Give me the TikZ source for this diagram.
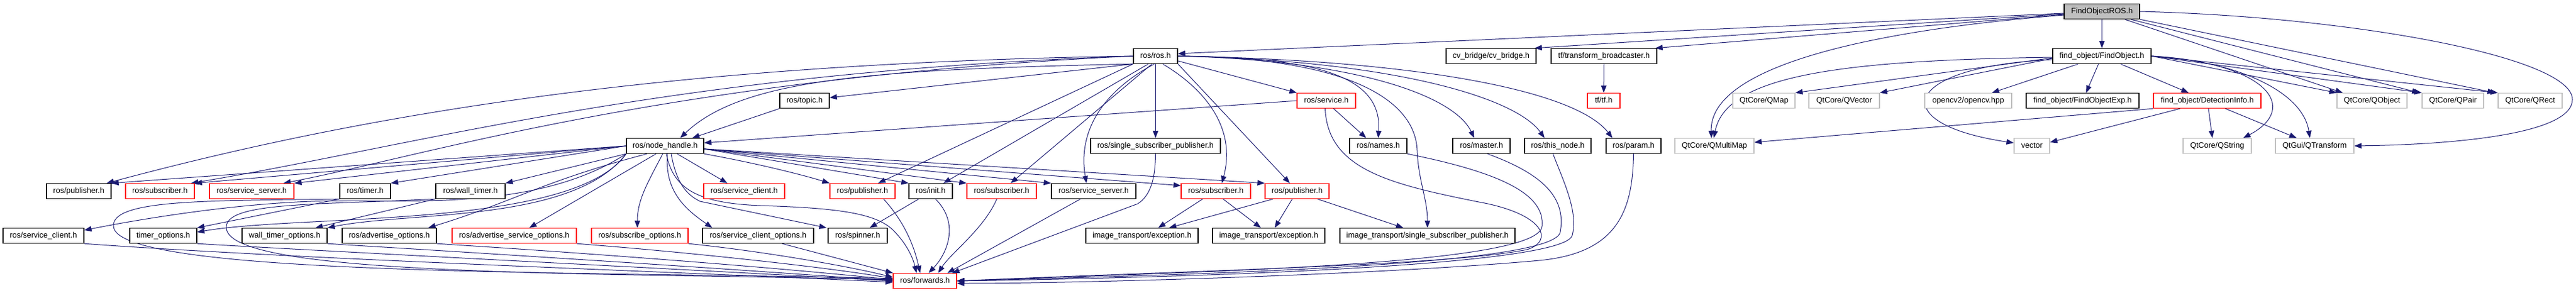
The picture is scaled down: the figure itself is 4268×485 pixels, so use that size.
\documentclass[tikz,border=0pt]{standalone}
\usepackage{fontspec}
\setmainfont{Liberation Sans}
\usetikzlibrary{arrows.meta,backgrounds}
\definecolor{eb}{HTML}{191970}
\definecolor{gb}{HTML}{BFBFBF}
\begin{document}
\begin{tikzpicture}[x=1pt,y=-1pt,
 nb/.style={draw=black,line width=1.3pt,minimum height=25pt,inner sep=0pt,fill=white,text height=9.5pt,text depth=2.5pt,font=\fontsize{13}{15}\selectfont},
 nr/.style={nb,draw=red},
 ng/.style={nb,draw=gb},
 nroot/.style={nb,fill=gb},
 e/.style={draw=eb,line width=1pt,-{Triangle[length=12pt,width=9pt]}}]
\useasboundingbox (0,0) rectangle (4268,485);
% row 1
\node[nroot,minimum width=125pt] (FOR) at (3482.5,19) {FindObjectROS.h};
% row 2
\node[nb,minimum width=73pt] (ros) at (1914.5,93) {ros/ros.h};
\node[nb,minimum width=149pt] (cvb) at (2470.5,93) {cv\_bridge/cv\_bridge.h};
\node[nb,minimum width=175pt] (tfb) at (2657.5,93) {tf/transform\_broadcaster.h};
\node[nb,minimum width=163pt] (fo) at (3482.5,93) {find\_object/FindObject.h};
% row 3
\node[nb,minimum width=82pt] (topic) at (1333,167) {ros/topic.h};
\node[nr,minimum width=97pt] (service) at (2197.5,167) {ros/service.h};
\node[nr,minimum width=54pt] (tf) at (2657,167) {tf/tf.h};
\node[ng,minimum width=103pt] (qmap) at (2922.5,167) {QtCore/QMap};
\node[ng,minimum width=117pt] (qvec) at (3055.5,167) {QtCore/QVector};
\node[ng,minimum width=144pt] (ocv) at (3261,167) {opencv2/opencv.hpp};
\node[nb,minimum width=187pt] (foexp) at (3450.5,167) {find\_object/FindObjectExp.h};
\node[nr,minimum width=178pt] (det) at (3657,167) {find\_object/DetectionInfo.h};
\node[ng,minimum width=116pt] (qobj) at (3930,167) {QtCore/QObject};
\node[ng,minimum width=102pt] (qpair) at (4064,167) {QtCore/QPair};
\node[ng,minimum width=106pt] (qrect) at (4192,167) {QtCore/QRect};
% row 4
\node[nb,minimum width=128pt] (nh) at (1102,242) {ros/node\_handle.h};
\node[nb,minimum width=215pt] (ssp) at (1914.5,242) {ros/single\_subscriber\_publisher.h};
\node[nb,minimum width=95pt] (names) at (2283.5,242) {ros/names.h};
\node[nb,minimum width=95pt] (master) at (2454.5,242) {ros/master.h};
\node[nb,minimum width=110pt] (thisnode) at (2581,242) {ros/this\_node.h};
\node[nb,minimum width=91pt] (param) at (2706.5,242) {ros/param.h};
\node[ng,minimum width=131pt] (qmm) at (2840.5,242) {QtCore/QMultiMap};
\node[ng,minimum width=59pt] (vector) at (3366.5,242) {vector};
\node[ng,minimum width=113pt] (qstr) at (3673.5,242) {QtCore/QString};
\node[ng,minimum width=130pt] (qtr) at (3835,242) {QtGui/QTransform};
% row 5
\node[nb,minimum width=107pt] (pub1) at (130.5,317) {ros/publisher.h};
\node[nr,minimum width=114pt] (sub1) at (265,317) {ros/subscriber.h};
\node[nr,minimum width=140pt] (ss1) at (417,317) {ros/service\_server.h};
\node[nb,minimum width=84pt] (timer) at (605,317) {ros/timer.h};
\node[nb,minimum width=115pt] (wt) at (779.5,317) {ros/wall\_timer.h};
\node[nr,minimum width=134pt] (sc1) at (1233,317) {ros/service\_client.h};
\node[nr,minimum width=108pt] (pub2) at (1429,317) {ros/publisher.h};
\node[nb,minimum width=72pt] (init) at (1542,317) {ros/init.h};
\node[nr,minimum width=115pt] (sub2) at (1659.5,317) {ros/subscriber.h};
\node[nb,minimum width=140pt] (ss2) at (1812,317) {ros/service\_server.h};
\node[nr,minimum width=115pt] (sub3) at (2014.5,317) {ros/subscriber.h};
\node[nr,minimum width=106pt] (pub3) at (2149,317) {ros/publisher.h};
% row 6
\node[nb,minimum width=134pt] (sc2) at (72,391) {ros/service\_client.h};
\node[nb,minimum width=111pt] (to) at (270.5,391) {timer\_options.h};
\node[nb,minimum width=141pt] (wto) at (471.5,391) {wall\_timer\_options.h};
\node[nb,minimum width=156pt] (ao) at (645,391) {ros/advertise\_options.h};
\node[nr,minimum width=206pt] (aso) at (852,391) {ros/advertise\_service\_options.h};
\node[nr,minimum width=160pt] (so) at (1060,391) {ros/subscribe\_options.h};
\node[nb,minimum width=184pt] (sco) at (1256,391) {ros/service\_client\_options.h};
\node[nb,minimum width=98pt] (spin) at (1421,391) {ros/spinner.h};
\node[nb,minimum width=186pt] (ite1) at (1892,391) {image\_transport/exception.h};
\node[nb,minimum width=186pt] (ite2) at (2102,391) {image\_transport/exception.h};
\node[nb,minimum width=290pt] (itssp) at (2365,391) {image\_transport/single\_subscriber\_publisher.h};
% row 7
\node[nr,minimum width=105pt] (fwd) at (1532.5,466) {ros/forwards.h};

\begin{scope}[on background layer]
% FindObjectROS.h
\draw[e] ([yshift=-3pt]FOR.west) -- ([yshift=4pt]ros.east);
\draw[e] ([yshift=-4pt]FOR.west) -- ([xshift=-3pt]cvb.north east);
\draw[e] ([yshift=-5pt]FOR.west) -- ([xshift=-3pt]tfb.north east);
\draw[e] ([yshift=-6pt]FOR.west) .. controls (3100,50) and (2832,110) .. ([xshift=-5pt]qmm.north);
\draw[e] (FOR) -- (fo);
\draw[e] ([xshift=38pt]FOR.south) -- ([xshift=10pt]qobj.north west);
\draw[e] ([xshift=48pt]FOR.south) -- ([xshift=-4pt]qpair.north west);
\draw[e] (FOR.south east) -- ([xshift=-5pt]qrect.north west);
\draw[e] (FOR.east) .. controls (3900,28) and (4262,95) .. (4262,165) .. controls (4262,225) and (4050,240) .. (qtr.east);
% FindObject.h
\draw[e] ([yshift=-2pt]fo.west) .. controls (3050,100) and (2860,125) .. ([xshift=-1pt]qmm.north);
\draw[e] ([yshift=-3pt]fo.west) -- (qmap.north east);
\draw[e] ([yshift=-4pt]fo.west) -- (qvec.north east);
\draw[e] ([yshift=-6pt]fo.west) .. controls (3150,110) and (3120,205) .. ([yshift=5pt]vector.west);
\draw[e] (fo) -- (ocv);
\draw[e] (fo) -- (foexp);
\draw[e] (fo) -- (det);
\draw[e] (fo.east) -- (qobj.north west);
\draw[e] (fo.east) -- (qpair.north west);
\draw[e] (fo.east) -- (qrect.north west);
\draw[e] (fo.east) .. controls (3760,105) and (3810,180) .. ([xshift=-14pt]qstr.north east);
\draw[e] (fo.east) .. controls (3700,100) and (3815,150) .. ([xshift=-8pt]qtr.north);
% DetectionInfo.h
\draw[e] ([xshift=2pt]det.south) -- ([xshift=-8pt]qstr.north);
\draw[e] ([xshift=30pt]det.south) -- ([xshift=-30pt]qtr.north);
\draw[e] (det.south west) -- ([yshift=6pt]qmm.east);
\draw[e] ([xshift=-45pt]det.south) -- ([yshift=6pt]vector.east);
\draw[e] (tfb) -- (tf);
% ros/ros.h
\draw[e] (ros.west) .. controls (1100,105) and (600,190) .. ([xshift=-8pt]pub1.north east);
\draw[e] (ros.west) .. controls (1100,120) and (700,240) .. ([xshift=-6pt]sub1.north east);
\draw[e] (ros.west) .. controls (1100,130) and (700,260) .. ([xshift=-18pt]ss1.north east);
\draw[e] (ros.south west) -- ([yshift=5pt]topic.east);
\draw[e] (ros.south west) .. controls (1450,115) and (1230,130) .. ([xshift=25pt]nh.north);
\draw[e] (topic.south west) -- ([xshift=45pt]nh.north);
\draw[e] (ros) -- (ssp);
\draw[e] (ros.south west) -- ([xshift=26pt]pub2.north);
\draw[e] ([xshift=-12pt]ros.south) -- ([xshift=21pt]init.north);
\draw[e] ([xshift=-6pt]ros.south) -- ([xshift=15pt]sub2.north);
\draw[e] ([xshift=-2pt]ros.south) .. controls (1830,150) and (1785,215) .. ([xshift=-12pt]ss2.north);
\draw[e] ([xshift=12pt]ros.south) .. controls (2000,150) and (2048,215) .. ([xshift=10pt]sub3.north);
\draw[e] (ros.south east) -- ([xshift=-12pt]pub3.north);
\draw[e] ([yshift=-8pt]ros.east) -- (service.north west);
\draw[e] (ros.east) .. controls (2180,95) and (2290,125) .. (names.north);
\draw[e] (ros.east) .. controls (2220,95) and (2345,160) .. (2348,250) .. controls (2350,300) and (2365,330) .. (itssp.north);
\draw[e] (ros.east) .. controls (2250,100) and (2410,160) .. ([xshift=-12pt]master.north);
\draw[e] (ros.east) .. controls (2300,100) and (2510,160) .. ([xshift=-22pt]thisnode.north);
\draw[e] (ros.east) .. controls (2350,100) and (2610,150) .. ([xshift=-35pt]param.north);
% ros/service.h
\draw[e] (service.west) -- ([yshift=5pt]nh.east);
\draw[e] ([xshift=12pt]service.south) -- ([xshift=-20pt]names.north);
\draw[e] ([xshift=-2pt]service.south) .. controls (2200,280) and (2300,305) .. (2450,335) .. controls (2560,355) and (2575,400) .. (2530,414) .. controls (2400,440) and (2000,448) .. (fwd.east);
% to forwards from the right
\draw[e] (names.south east) .. controls (2480,285) and (2560,320) .. (2555,375) .. controls (2550,440) and (2000,450) .. (fwd.east);
\draw[e] ([xshift=10pt]master.south) .. controls (2560,290) and (2595,330) .. (2585,385) .. controls (2575,440) and (2000,455) .. (fwd.east);
\draw[e] ([xshift=-8pt]thisnode.south) .. controls (2590,300) and (2615,350) .. (2605,390) .. controls (2595,440) and (2000,460) .. (fwd.east);
\draw[e] (param.south) .. controls (2705,350) and (2680,420) .. (2550,432) .. controls (2300,455) and (1800,470) .. ([yshift=-4pt]fwd.east);
\draw[e] (ssp.south) .. controls (1914,300) and (1905,325) .. (1885,338) -- ([xshift=-8pt]fwd.north east);
\draw[e] ([xshift=-22pt]ss2.south) -- ([xshift=-16pt]fwd.north east);
\draw[e] ([xshift=-8pt]sub2.south) .. controls (1630,380) and (1575,420) .. ([xshift=22pt]fwd.north);
\draw[e] ([xshift=8pt]init.south) .. controls (1590,370) and (1570,420) .. ([xshift=6pt]fwd.north);
\draw[e] ([xshift=-20pt]init.south) -- ([xshift=20pt]spin.north);
\draw[e] ([xshift=35pt]pub2.south) .. controls (1500,370) and (1515,410) .. ([xshift=-8pt]fwd.north);
% image_transport
\draw[e] ([xshift=-22pt]sub3.south) -- ([xshift=27pt]ite1.north);
\draw[e] ([xshift=12pt]sub3.south) -- ([xshift=-13pt]ite2.north);
\draw[e] ([xshift=-40pt]pub3.south) -- ([xshift=45pt]ite1.north);
\draw[e] ([xshift=-8pt]pub3.south) -- ([xshift=10pt]ite2.north);
\draw[e] ([xshift=34pt]pub3.south) -- ([xshift=-40pt]itssp.north);
% ros/node_handle.h
\draw[e] (nh.west) -- (pub1.north east);
\draw[e] (nh.west) -- (sub1.north east);
\draw[e] (nh.west) -- (ss1.north east);
\draw[e] (nh.west) -- (timer.north east);
\draw[e] (nh.south west) -- (wt.north east);
\draw[e] (nh.south west) .. controls (900,345) and (700,333) .. (565,333) .. controls (420,333) and (250,360) .. ([yshift=-4pt]sc2.north east);
\draw[e] ([xshift=-30pt]nh.south) .. controls (900,300) and (850,335) .. ([xshift=-14pt]ao.north east);
\draw[e] ([xshift=-15pt]nh.south) -- ([xshift=25pt]aso.north);
\draw[e] ([xshift=-4pt]nh.south) .. controls (1075,300) and (1056,330) .. ([xshift=-4pt]so.north);
\draw[e] ([xshift=4pt]nh.south) .. controls (1100,320) and (1140,350) .. ([xshift=-76pt]sco.north);
\draw[e] ([xshift=10pt]nh.south) .. controls (1120,300) and (1135,322) .. (1160,334) -- ([xshift=-2pt]spin.north west);
\draw[e] ([xshift=20pt]nh.south) -- ([xshift=-28pt]sc1.north);
\draw[e] (nh.south east) .. controls (1250,270) and (1330,290) .. (pub2.north west);
\draw[e] ([xshift=2pt]nh.south) .. controls (1115,310) and (1150,337) .. (1260,341) .. controls (1380,345) and (1450,352) .. (1480,382) .. controls (1500,402) and (1512,425) .. ([xshift=-14pt]fwd.north);
\draw[e] ([yshift=-5pt]nh.east) -- (init.north west);
\draw[e] ([yshift=-5pt]nh.east) -- (sub2.north west);
\draw[e] ([yshift=-5pt]nh.east) -- (ss2.north west);
\draw[e] ([yshift=-5pt]nh.east) -- ([yshift=-4pt]sub3.north west);
\draw[e] ([yshift=-5pt]nh.east) -- (pub3.north west);
\draw[e] (nh.south west) .. controls (950,380) and (500,355) .. ([yshift=6pt]to.east);
\draw[e] (nh.south west) .. controls (950,370) and (680,350) .. (wto.north east);
% timers
\draw[e] (timer.south west) -- (to.north east);
\draw[e] (wt.south west) -- ([xshift=-20pt]wto.north east);
\draw[e] (timer.south west) .. controls (350,333) and (185,330) .. (188,375) .. controls (190,460) and (1000,450) .. ([yshift=4pt]fwd.west);
\draw[e] (wt.south west) .. controls (520,340) and (372,335) .. (375,378) .. controls (378,460) and (1000,452) .. ([yshift=2pt]fwd.west);
% bottom row to forwards
\draw[e] (sc2.south east) .. controls (500,430) and (1100,450) .. ([yshift=-2pt]fwd.west);
\draw[e] (to.south east) .. controls (600,420) and (1100,445) .. (fwd.west);
\draw[e] (wto.south east) .. controls (800,420) and (1200,445) .. (fwd.west);
\draw[e] (ao.south east) .. controls (900,415) and (1250,440) .. ([yshift=2pt]fwd.west);
\draw[e] (aso.south east) .. controls (1100,415) and (1350,440) .. ([yshift=4pt]fwd.west);
\draw[e] (so.south east) .. controls (1250,415) and (1400,440) .. ([yshift=6pt]fwd.west);
\draw[e] ([xshift=40pt]sco.south) -- (fwd.north west);
\end{scope}
\end{tikzpicture}
\end{document}
